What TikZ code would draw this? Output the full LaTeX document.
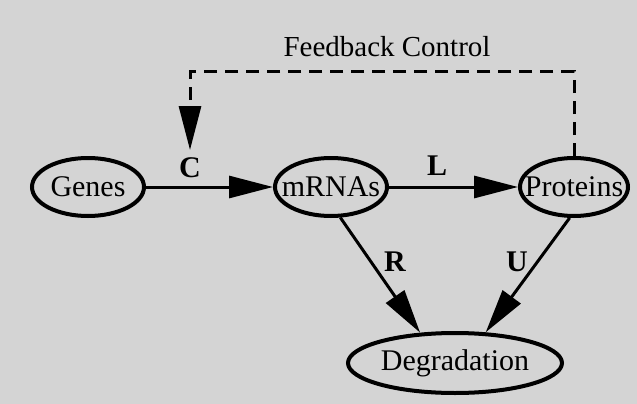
\documentclass[tikz,border=0pt]{standalone}
\usepackage{fontspec}
\setmainfont{Liberation Serif}
\usetikzlibrary{arrows.meta,shapes.geometric}
\newcommand{\fixw}[1]{\makebox[0pt][c]{#1}}
\begin{document}
\begin{tikzpicture}[x=1pt,y=-1pt,
  state/.style={ellipse,draw,line width=4pt,inner sep=0pt,font=\fontsize{30}{32}\selectfont},
  lab/.style={font=\fontsize{30}{32}\selectfont\bfseries},
  conn/.style={line width=3pt,-{Triangle[length=44pt,width=22pt]}},
  fb/.style={line width=3pt,dash pattern=on 13pt off 8pt,-{Triangle[length=44pt,width=22pt]}}]
\fill[black!17] (0,0) rectangle (637,404);
\useasboundingbox (0,0) rectangle (637,404);
\node[state,minimum width=112pt,minimum height=58pt] (genes) at (88,187) {\fixw{Genes}};
\node[state,minimum width=112pt,minimum height=58pt] (mrna) at (331,187) {\fixw{mRNAs}};
\node[state,minimum width=108pt,minimum height=58pt] (prot) at (574,187) {\fixw{Proteins}};
\node[state,minimum width=214pt,minimum height=60pt] (deg) at (455,363) {\fixw{Degradation}};
\coordinate (fbend) at (190,150);
\draw[conn] (genes) -- (mrna);
\draw[conn] (mrna) -- (prot);
\draw[conn] (mrna.287) -- (deg.139);
\draw[conn] (prot.262) -- (deg.45);
\draw[fb] (prot.north) -- (574,72) -- (190,72) -- (fbend);
\node[font=\fontsize{29}{32}\selectfont] (fbl) at (387,47) {Feedback Control};
\node[lab] (lc) at (190,168) {C};
\node[lab] (ll) at (437,166) {L};
\node[lab] (lr) at (395,262) {R};
\node[lab] (lu) at (517,262) {U};
\end{tikzpicture}
\end{document}
